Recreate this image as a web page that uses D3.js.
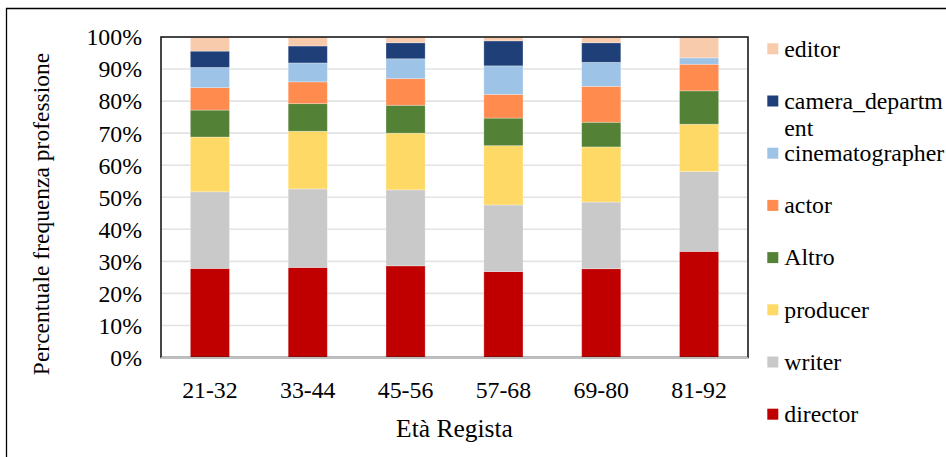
<!DOCTYPE html>
<html>
<head>
<meta charset="utf-8">
<script src="https://cdn.jsdelivr.net/npm/d3@7"></script>
<style>
  html, body { margin: 0; padding: 0; background: #fff; }
  svg { display: block; }
</style>
</head>
<body>
<svg id="chart" width="946" height="457"></svg>
<script>
// Age groups of the director (x categories)
const categories = ["21-32", "33-44", "45-56", "57-68", "69-80", "81-92"];

// Share (%) of each profession within every age group, stacked bottom to top
const director          = [27.8, 28.1, 28.6, 26.8, 27.7, 33.1];
const writer            = [23.9, 24.5, 23.7, 20.8, 20.8, 24.9];
const producer          = [17.1, 18.0, 17.7, 18.5, 17.2, 14.8];
const altro             = [ 8.4,  8.6,  8.7,  8.6,  7.7, 10.4];
const actor             = [ 7.0,  6.8,  8.3,  7.4, 11.2,  8.3];
const cinematographer   = [ 6.3,  5.9,  6.2,  8.9,  7.5,  2.0];
const camera_department = [ 5.1,  5.3,  5.0,  7.8,  6.1,  0.0];
const editor            = [ 4.4,  2.8,  1.8,  1.2,  1.8,  6.5];

const yTicks = [0, 10, 20, 30, 40, 50, 60, 70, 80, 90, 100];

const seriesDefs = [
  { key: "director",          label: "director",          values: director,          color: "#C00000" },
  { key: "writer",            label: "writer",            values: writer,            color: "#C9C9C9" },
  { key: "producer",          label: "producer",          values: producer,          color: "#FFD966" },
  { key: "Altro",             label: "Altro",             values: altro,             color: "#538135" },
  { key: "actor",             label: "actor",             values: actor,             color: "#FF8B4F" },
  { key: "cinematographer",   label: "cinematographer",   values: cinematographer,   color: "#9DC3E6" },
  { key: "camera_department", label: "camera_department", values: camera_department, color: "#1F3F78" },
  { key: "editor",            label: "editor",            values: editor,            color: "#F8CBAD" }
];

const SERIF = "'Liberation Serif', 'Times New Roman', Times, serif";

// Rows for d3.stack, normalised so each column sums to 100
const rows = categories.map((c, i) => {
  const row = { cat: c };
  let tot = 0;
  seriesDefs.forEach(s => { tot += s.values[i]; });
  seriesDefs.forEach(s => { row[s.key] = s.values[i] / tot * 100; });
  return row;
});

const stacked = d3.stack().keys(seriesDefs.map(s => s.key))(rows);

const svg = d3.select("#chart");
const plot = { left: 161, right: 748, top: 37, bottom: 357.5 };

const x = d3.scaleBand()
  .domain(categories)
  .range([plot.left, plot.right])
  .paddingInner(0.6)
  .paddingOuter(0.3);

const y = d3.scaleLinear()
  .domain([0, 100])
  .range([plot.bottom, plot.top]);

// Outer chart frame (only the top and left edges fall inside the view)
svg.append("path")
  .attr("d", "M6.5,470 V8.5 H960")
  .attr("fill", "none")
  .attr("stroke", "#000")
  .attr("stroke-width", 1.3);

// Horizontal gridlines
svg.append("g")
  .selectAll("line")
  .data(yTicks.filter(t => t > 0 && t < 100))
  .join("line")
  .attr("x1", plot.left)
  .attr("x2", plot.right)
  .attr("y1", d => y(d))
  .attr("y2", d => y(d))
  .attr("stroke", "#E3E3E3")
  .attr("stroke-width", 1.6);

// Stacked bars
svg.append("g")
  .selectAll("g")
  .data(stacked)
  .join("g")
  .attr("fill", (d, i) => seriesDefs[i].color)
  .selectAll("rect")
  .data(d => d)
  .join("rect")
  .attr("x", d => x(d.data.cat))
  .attr("width", x.bandwidth())
  .attr("y", d => y(d[1]))
  .attr("height", d => Math.max(0, y(d[0]) - y(d[1])))
  .attr("stroke", "#ffffff")
  .attr("stroke-opacity", 0.35)
  .attr("stroke-width", 0.8);

// Plot area border
svg.append("rect")
  .attr("x", plot.left)
  .attr("y", plot.top)
  .attr("width", plot.right - plot.left)
  .attr("height", plot.bottom - plot.top)
  .attr("fill", "none")
  .attr("stroke", "#1a1a1a")
  .attr("stroke-width", 1.6);

// Category axis line
svg.append("line")
  .attr("x1", plot.left)
  .attr("x2", plot.right)
  .attr("y1", plot.bottom + 0.5)
  .attr("y2", plot.bottom + 0.5)
  .attr("stroke", "#BFBFBF")
  .attr("stroke-width", 2);

// Y axis tick labels
const yAxis = d3.axisLeft(y)
  .tickValues(yTicks)
  .tickFormat(d => d + "%")
  .tickSize(0)
  .tickPadding(19);
const gy = svg.append("g")
  .attr("transform", `translate(${plot.left},0)`)
  .call(yAxis);
gy.select(".domain").remove();
gy.selectAll("text")
  .style("font-family", SERIF)
  .style("font-size", "23.8px")
  .attr("fill", "#000")
  .attr("dy", "0.33em");

// X axis tick labels
const xAxis = d3.axisBottom(x).tickSize(0).tickPadding(0);
const gx = svg.append("g")
  .attr("transform", `translate(0,${plot.bottom})`)
  .call(xAxis);
gx.select(".domain").remove();
gx.selectAll("text")
  .style("font-family", SERIF)
  .style("font-size", "23.8px")
  .attr("fill", "#000")
  .attr("dy", null)
  .attr("y", 40.5);

// Axis titles
svg.append("text")
  .attr("x", (plot.left + plot.right) / 2)
  .attr("y", 437)
  .attr("text-anchor", "middle")
  .style("font-family", SERIF)
  .style("font-size", "25.5px")
  .text("Età Regista");

svg.append("text")
  .attr("transform", "translate(49,214) rotate(-90)")
  .attr("text-anchor", "middle")
  .style("font-family", SERIF)
  .style("font-size", "23.5px")
  .text("Percentuale frequenza professione");

// Legend, listed top to bottom in reverse stacking order
const legendItems = seriesDefs.slice().reverse();
const lg = svg.append("g");
const legendTop = 48.8, legendStep = 52.2;
legendItems.forEach((s, i) => {
  const cy = legendTop + i * legendStep;
  lg.append("rect")
    .attr("x", 767.3)
    .attr("y", cy - 5.5)
    .attr("width", 11)
    .attr("height", 11)
    .attr("fill", s.color);
  const t = lg.append("text")
    .attr("x", 784.3)
    .attr("y", cy + 7.8)
    .style("font-family", SERIF)
    .style("font-size", "23.8px");
  if (s.label === "camera_department") {
    t.append("tspan").attr("x", 784.3).text("camera_departm");
    t.append("tspan").attr("x", 784.3).attr("dy", 27.4).text("ent");
  } else {
    t.text(s.label);
  }
});
</script>
</body>
</html>
